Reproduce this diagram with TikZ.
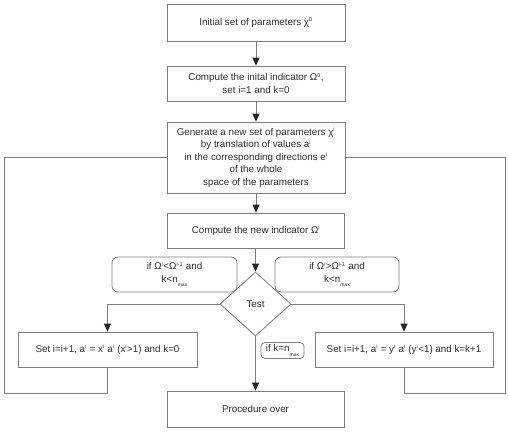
\documentclass[tikz,border=0pt]{standalone}
\usepackage{fontspec}
\setmainfont{Liberation Sans}
\usetikzlibrary{arrows.meta,shapes.geometric}
\definecolor{ln}{RGB}{125,125,125}
\definecolor{tx}{RGB}{45,45,45}
\newcommand{\sps}[1]{\textsuperscript{\fontsize{5.5}{6}\selectfont #1}}
\newcommand{\nmax}{n\raisebox{-0.8ex}{\fontsize{5}{6}\selectfont max}}
\tikzset{
  box/.style={draw=ln,line width=0.8pt,rectangle,align=center,inner sep=2pt,text=tx,font=\fontsize{9.8}{12.5}\selectfont},
  rbox/.style={box,rounded corners=6pt},
  dia/.style={draw=ln,line width=0.8pt,diamond,inner sep=0pt,minimum width=71pt,minimum height=64pt,text=tx,font=\fontsize{9.8}{12}\selectfont},
  conn/.style={draw=ln,line width=0.8pt},
  arr/.style={conn,-{Triangle[length=8pt,width=7pt,fill=black!85,color=black!85]}}
}
\begin{document}
\begin{tikzpicture}[x=1pt,y=-1pt]
\useasboundingbox (0,0) rectangle (508,432);
\node[box,minimum width=178pt,minimum height=37pt] (b1) at (256,22.5) {Initial set of parameters χ\sps{0}};
\node[box,minimum width=178pt,minimum height=35pt] (b2) at (256,83.5) {Compute the inital indicator Ω\sps{0},\\set i=1 and k=0};
\node[box,minimum width=178pt,minimum height=71pt,font=\fontsize{9.8}{12.5}\selectfont] (b3) at (256,157.5) {Generate a new set of parameters χ\sps{i}\\by translation of values a\sps{i}\\in the corresponding directions e\sps{i}\\of the whole\\space of the parameters};
\node[box,minimum width=177pt,minimum height=35pt] (b4) at (256,230.5) {Compute the new indicator Ω\sps{i}};
\node[rbox,minimum width=125pt,minimum height=35pt] (cl) at (174.5,274.5) {if Ω\sps{i}<Ω\sps{i-1} and\\k<\nmax};
\node[rbox,minimum width=124pt,minimum height=35pt] (cr) at (337,274.5) {if Ω\sps{i}>Ω\sps{i-1} and\\k<\nmax};
\node[dia,fill=white] (d) at (255.5,304) {Test};
\node[box,minimum width=179pt,minimum height=35pt] (b5l) at (107.5,349.5) {Set i=i+1, a\sps{i} = x\sps{i} a\sps{i} (x\sps{i}>1) and k=0};
\node[box,minimum width=178pt,minimum height=35pt] (b5r) at (404,349.5) {Set i=i+1, a\sps{i} = y\sps{i} a\sps{i} (y\sps{i}<1) and k=k+1};
\node[rbox,rounded corners=4pt,minimum width=43pt,minimum height=16pt,inner sep=1pt] (ck) at (282.5,350.5) {if k=\nmax};
\node[box,minimum width=177pt,minimum height=36pt] (b6) at (255.5,409) {Procedure over};
\coordinate (lb) at (4,393);
\coordinate (rb) at (505,393);
\draw[arr] (b1) -- (b2);
\draw[arr] (b2) -- (b3);
\draw[arr] (b3) -- (b4);
\draw[arr] (b4.south -| d.north) -- (d.north);
\draw[arr] (d.west) -| (b5l.north);
\draw[arr] (d.east) -| (b5r.north);
\draw[arr] (d.south) -- (d.south |- b6.north);
\draw[conn] (b5l.south) |- (lb) |- (b3.west);
\draw[conn] (b5r.south) |- (rb) |- (b3.east);
\end{tikzpicture}
\end{document}
